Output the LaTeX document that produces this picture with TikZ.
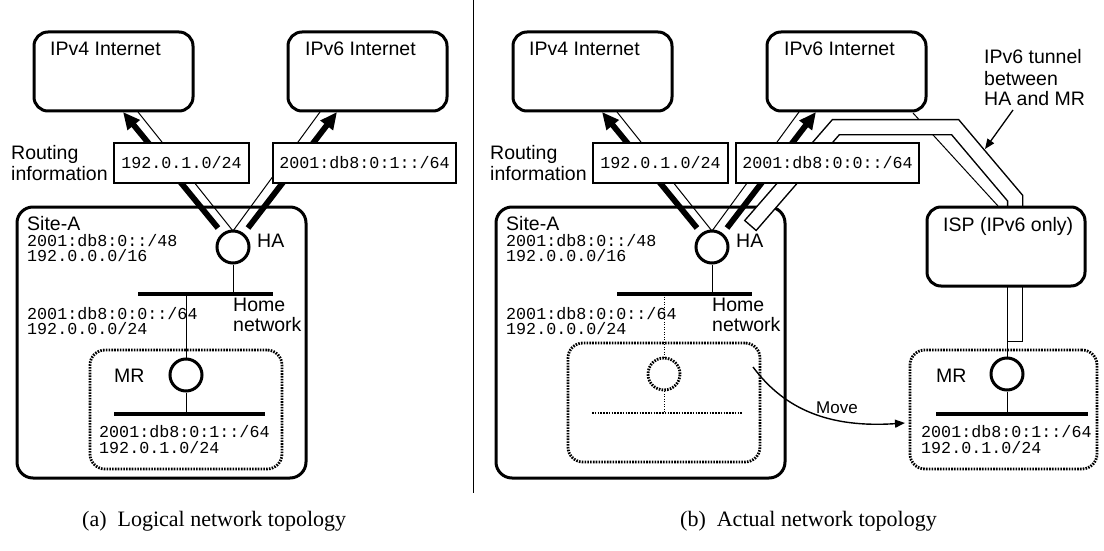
\documentclass[tikz,border=0pt]{standalone}
\usepackage{fontspec}
\setmainfont{Liberation Serif}
\newfontfamily\sansf{Liberation Sans}
\newfontfamily\monof{Liberation Mono}
\usetikzlibrary{arrows.meta}
\begin{document}
\begin{tikzpicture}[x=1pt,y=-1pt,
  netbox/.style={draw, line width=3pt, rounded corners=14pt, fill=white, inner sep=0, minimum height=79pt},
  sitebox/.style={draw, line width=3pt, rounded corners=16pt, inner sep=0},
  dotbox/.style={draw, line width=2.8pt, dash pattern=on 1.6pt off 1.2pt, rounded corners=15pt, inner sep=0, minimum height=119pt},
  router/.style={circle, draw, line width=3pt, minimum size=32pt, inner sep=0, fill=white},
  ghostrouter/.style={circle, draw, line width=2.8pt, dash pattern=on 1.6pt off 1.2pt, minimum size=32pt, inner sep=0, fill=white},
  ribox/.style={draw, line width=1.6pt, fill=white, inner sep=0, minimum height=40pt, font=\monof\fontsize{16.7}{18}\selectfont},
  lbl/.style={inner sep=0, anchor=base west, font=\sansf\fontsize{19.5}{21}\selectfont},
  smalllbl/.style={inner sep=0, anchor=base west, font=\sansf\fontsize{17}{19}\selectfont},
  mono/.style={inner sep=0, anchor=base west, font=\monof\fontsize{16.7}{18}\selectfont},
  captxt/.style={inner sep=0, anchor=base west, font=\fontsize{22}{25}\selectfont},
  bar/.style={line width=3.6pt},
  dotbar/.style={line width=2.8pt, dash pattern=on 1.6pt off 1.2pt},
  link/.style={line width=1pt},
  dotlink/.style={line width=1pt, dash pattern=on 1pt off 1.5pt},
  route/.style={line width=5.8pt, -{Triangle[length=17pt,width=15pt]}},
  pointer/.style={line width=1.3pt, -{Triangle[length=10pt,width=8pt]}},
]
\useasboundingbox (0,0) rectangle (1104,551);

% separator
\coordinate (sepT) at (473,0);
\coordinate (sepB) at (473,493);
\draw[line width=1pt] (sepT) -- (sepB);

% ================= left panel (a) =================
\node[sitebox, minimum width=289pt, minimum height=271pt] (siteA) at (161.5,342.5) {};
\node[dotbox, minimum width=192pt] (mrboxA) at (186,409.5) {};
\node[netbox, minimum width=159pt] (ipv4A) at (113.5,71.5) {};
\node[netbox, minimum width=159pt] (ipv6A) at (367.5,71.5) {};

\coordinate (a4thickS) at (218,228); \coordinate (a4thickE) at (123,112);
\coordinate (a4thinS) at (233,231);  \coordinate (a4thinE) at (138,112);
\coordinate (a6thinE) at (320,112);
\coordinate (a6thickS) at (248,228); \coordinate (a6thickE) at (337,112);
\draw[link] (a4thinS) -- (a4thinE);
\draw[link] (a4thinS) -- (a6thinE);
\draw[route] (a4thickS) -- (a4thickE);
\draw[route] (a6thickS) -- (a6thickE);

\node[ribox, minimum width=135pt] (ri4A) at (181.5,163) {192.0.1.0/24};
\node[ribox, minimum width=183pt] (ri6A) at (364.5,163) {2001:db8:0:1::/64};

\node[router] (haA) at (233,247) {};
\node[router] (mrA) at (186,375) {};
\coordinate (hbarAL) at (138,294); \coordinate (hbarAR) at (273,294);
\coordinate (mrbarAL) at (114,414); \coordinate (mrbarAR) at (265,414);
\draw[link] (haA.south) -- (haA.south |- hbarAL);
\draw[link] (mrA.north |- hbarAL) -- (mrA.north);
\draw[link] (mrA.south) -- (mrA.south |- mrbarAL);
\draw[bar] (hbarAL) -- (hbarAR);
\draw[bar] (mrbarAL) -- (mrbarAR);

\node[lbl] (t4A) at (50,56) {IPv4 Internet};
\node[lbl] (t6A) at (305,56) {IPv6 Internet};
\node[lbl] (rtA1) at (11,159) {Routing};
\node[lbl] (rtA2) at (11,180) {information};
\node[lbl] (sA) at (27,230) {Site-A};
\node[mono] (sA1) at (27,246) {2001:db8:0::/48};
\node[mono] (sA2) at (27,261) {192.0.0.0/16};
\node[lbl] (haAl) at (257,247) {HA};
\node[lbl] (hnA1) at (233,311) {Home};
\node[lbl] (hnA2) at (233,331) {network};
\node[mono] (hpA1) at (27,319) {2001:db8:0:0::/64};
\node[mono] (hpA2) at (27,334) {192.0.0.0/24};
\node[lbl] (mrAl) at (114,382) {MR};
\node[mono] (mpA1) at (99,437) {2001:db8:0:1::/64};
\node[mono] (mpA2) at (99,453) {192.0.1.0/24};

% ================= right panel (b) =================
\node[sitebox, minimum width=289pt, minimum height=271pt] (siteB) at (640.5,342.5) {};
\node[dotbox, minimum width=192pt] (ghostbox) at (664,402.5) {};
\node[dotbox, minimum width=187pt] (mrboxB) at (1003.5,409.5) {};
\node[netbox, minimum width=159pt] (ipv4B) at (592.5,71.5) {};
\node[netbox, minimum width=159pt] (ipv6B) at (846.5,71.5) {};

\coordinate (b4thickS) at (697,228); \coordinate (b4thickE) at (602,112);
\coordinate (b4thinS) at (712,231);  \coordinate (b4thinE) at (617,112);
\coordinate (b6thinE) at (799,112);
\coordinate (b6thickS) at (727,228); \coordinate (b6thickE) at (816,112);
\draw[link] (b4thinS) -- (b4thinE);
\draw[link] (b4thinS) -- (b6thinE);
\draw[route] (b4thickS) -- (b4thickE);
\draw[route] (b6thickS) -- (b6thickE);

% ISP uplink
\coordinate (ispUpS) at (913,113); \coordinate (ispUpE) at (998,206);
\draw[link] (ispUpS) -- (ispUpE);

% tunnel band
\coordinate (tn0) at (750,226);
\coordinate (tn1) at (836,127);
\coordinate (tn2) at (955,127);
\coordinate (tn3) at (1015,198);
\coordinate (tn4) at (1015,215);
\draw[line width=16.5pt, line join=miter] (tn0) -- (tn1) -- (tn2) -- (tn3) -- (tn4);
\draw[white, line width=13.5pt, line join=miter, shorten <=1.5pt] (tn0) -- (tn1) -- (tn2) -- (tn3) -- (tn4);
\coordinate (tl0) at (1015,280);
\coordinate (tl1) at (1015,342);
\draw[line width=16.5pt] (tl0) -- (tl1);
\draw[white, line width=13.5pt, shorten >=1.5pt] (tl0) -- (tl1);

\node[ribox, minimum width=135pt] (ri4B) at (660.5,163) {192.0.1.0/24};
\node[ribox, minimum width=183pt] (ri6B) at (827.5,163) {2001:db8:0:0::/64};

\node[netbox, minimum width=158pt] (isp) at (1006,246.5) {};

\node[router] (haB) at (712,247) {};
\node[ghostrouter] (ghost) at (664,374) {};
\node[router] (mrB) at (1007,374) {};
\coordinate (hbarBL) at (617,294); \coordinate (hbarBR) at (752,294);
\coordinate (gbarL) at (592,413); \coordinate (gbarR) at (742,413);
\coordinate (mrbarBL) at (936,414); \coordinate (mrbarBR) at (1088,414);
\coordinate (tunBot) at (1007,342);
\draw[link] (haB.south) -- (haB.south |- hbarBL);
\draw[dotlink] (ghost.north |- hbarBL) -- (ghost.north);
\draw[dotlink] (ghost.south) -- (ghost.south |- gbarL);
\draw[bar] (hbarBL) -- (hbarBR);
\draw[dotbar] (gbarL) -- (gbarR);
\draw[link] (tunBot) -- (mrB.north);
\draw[link] (mrB.south) -- (mrB.south |- mrbarBL);
\draw[bar] (mrbarBL) -- (mrbarBR);

% move arrow
\coordinate (mvS) at (753,367);
\coordinate (mvE) at (905,423);
\draw[pointer, line width=1.4pt] (mvS) .. controls (785,410) and (830,428) .. (mvE);
\node[smalllbl] (mvl) at (816,413) {Move};

% tunnel label
\node[lbl] (tun1) at (984,64) {IPv6 tunnel};
\node[lbl] (tun2) at (984,85) {between};
\node[lbl] (tun3) at (984,106) {HA and MR};
\coordinate (tpS) at (1013,110);
\coordinate (tpE) at (985,149);
\draw[pointer] (tpS) -- (tpE);

\node[lbl] (t4B) at (529,56) {IPv4 Internet};
\node[lbl] (t6B) at (784,56) {IPv6 Internet};
\node[lbl] (ispl) at (943,231) {ISP (IPv6 only)};
\node[lbl] (rtB1) at (490,159) {Routing};
\node[lbl] (rtB2) at (490,180) {information};
\node[lbl] (sB) at (506,230) {Site-A};
\node[mono] (sB1) at (506,246) {2001:db8:0::/48};
\node[mono] (sB2) at (506,261) {192.0.0.0/16};
\node[lbl] (haBl) at (736,247) {HA};
\node[lbl] (hnB1) at (712,311) {Home};
\node[lbl] (hnB2) at (712,331) {network};
\node[mono] (hpB1) at (506,319) {2001:db8:0:0::/64};
\node[mono] (hpB2) at (506,334) {192.0.0.0/24};
\node[lbl] (mrBl) at (936,382) {MR};
\node[mono] (mpB1) at (921,437) {2001:db8:0:1::/64};
\node[mono] (mpB2) at (921,453) {192.0.1.0/24};

% captions
\node[captxt] (capA) at (82,526) {(a)\ \ Logical network topology};
\node[captxt] (capB) at (680,526) {(b)\ \ Actual network topology};
\end{tikzpicture}
\end{document}
